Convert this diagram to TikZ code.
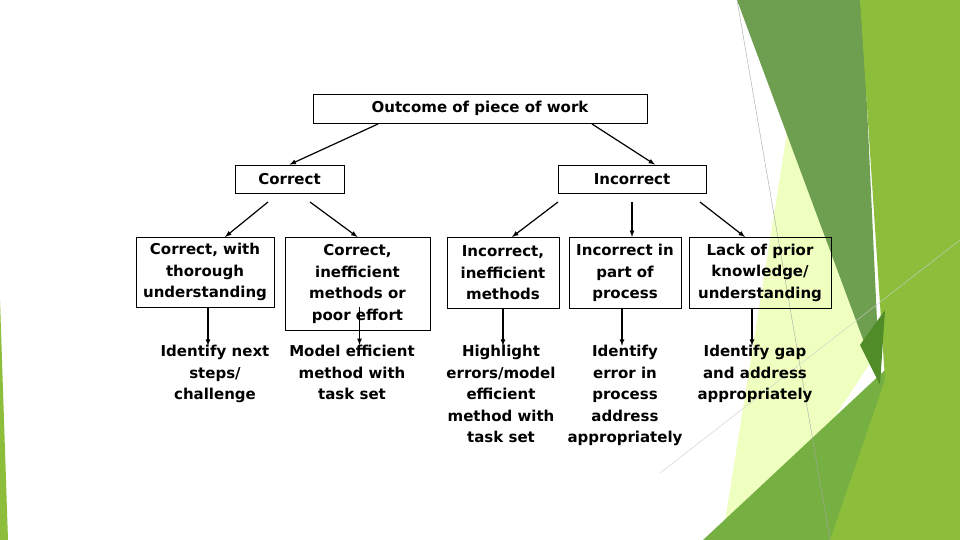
\documentclass[tikz,border=0pt]{standalone}
\usepackage{fontspec}
\setmainfont{DejaVu Sans}
\begin{document}
\begin{tikzpicture}[x=1pt,y=-1pt,
  box/.style={draw,line width=0.8pt,align=center,inner sep=2pt,font=\fontsize{15}{21.5}\selectfont\bfseries},
  txt/.style={align=center,font=\fontsize{15}{21.5}\selectfont\bfseries},
  arr/.style={-latex,line width=1.2pt}]
\useasboundingbox (0,0) rectangle (960,540);
\fill[white] (0,0) rectangle (960,540);
% background facets
\fill[green!45!black!20!lime!60!white, fill=lime!25!white] (787,133) -- (872,360) -- (800,470) -- (740,540) -- (722,540) -- cycle;
\fill[fill={rgb,255:red,110;green,158;blue,80}] (737,0) -- (862,0) -- (880,385) -- cycle;
\fill[fill={rgb,255:red,118;green,176;blue,67}] (703,540) -- (960,300) -- (960,540) -- cycle;
\fill[fill={rgb,255:red,140;green,190;blue,60}] (860,0) -- (960,0) -- (960,540) -- (830,540) -- (885,380) -- cycle;
\fill[fill={rgb,255:red,80;green,140;blue,40}] (880,385) -- (885,310) -- (860,345) -- cycle;
\draw[gray!70,line width=0.4pt] (737,0) -- (830,540);
\draw[gray!40,line width=0.4pt] (660,473) -- (960,240);
\fill[fill={rgb,255:red,140;green,190;blue,60}] (0,300) -- (8,540) -- (0,540) -- cycle;
% boxes
\node[box,minimum width=334,minimum height=29] (o) at (480,108.5) {Outcome of piece of work};
\node[box,minimum width=109,minimum height=28] (c) at (289.5,179) {Correct};
\node[box,minimum width=148,minimum height=28] (i) at (632,179) {Incorrect};
\node[box,minimum width=138,minimum height=70,anchor=north] (c1) at (205,237) {Correct, with\\thorough\\understanding};
\node[box,minimum width=145,minimum height=93,anchor=north] (c2) at (357.5,237) {Correct,\\inefficient\\methods or\\poor effort};
\node[box,minimum width=112,minimum height=71,anchor=north] (i1) at (503,237) {Incorrect,\\inefficient\\methods};
\node[box,minimum width=112,minimum height=71,anchor=north] (i2) at (625,237) {Incorrect in\\part of\\process};
\node[box,minimum width=142,minimum height=71,anchor=north] (i3) at (760,237) {Lack of prior\\knowledge/\\understanding};
% bottom texts
\node[txt,anchor=north] (b1) at (215,342) {Identify next\\steps/\\challenge};
\node[txt,anchor=north] (b2) at (352,342) {Model efficient\\method with\\task set};
\node[txt,anchor=north] (b3) at (501,342) {Highlight\\errors/model\\efficient\\method with\\task set};
\node[txt,anchor=north] (b4) at (625,342) {Identify\\error in\\process\\address\\appropriately};
\node[txt,anchor=north] (b5) at (755,342) {Identify gap\\and address\\appropriately};
% arrows
\coordinate (oa) at (378,124); \coordinate (ob) at (592,124);
\draw[arr] (oa) -- (c.north);
\draw[arr] (ob) -- ([xshift=23pt]i.north);
\coordinate (ca) at (268,202); \coordinate (cb) at (310,202);
\draw[arr] (ca) -- ([xshift=20pt]c1.north);
\draw[arr] (cb) -- (c2.north);
\coordinate (ia) at (558,202); \coordinate (ib) at (632,202); \coordinate (ic) at (700,202);
\draw[arr] (ia) -- ([xshift=9pt]i1.north);
\draw[arr] (ib) -- ([xshift=7pt]i2.north);
\draw[arr] (ic) -- ([xshift=-15pt]i3.north);
\draw[arr] ([xshift=3pt]c1.south) -- ++(0,38);
\draw[arr] ([xshift=2pt]c2.north |- 307,307) -- ++(0,38);
\draw[arr] (i1.south) -- ++(0,37);
\draw[arr] ([xshift=-3pt]i2.south) -- ++(0,37);
\draw[arr] ([xshift=-8pt]i3.south) -- ++(0,37);
\end{tikzpicture}
\end{document}
